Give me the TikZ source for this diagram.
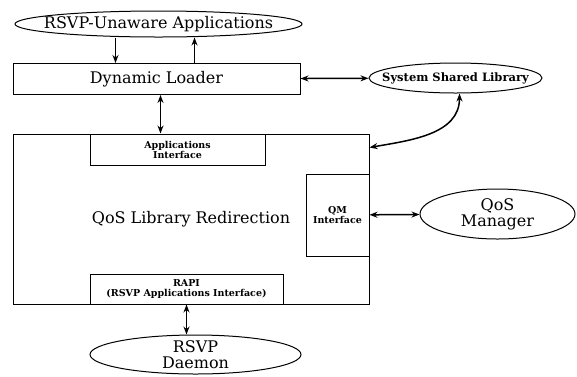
\documentclass[tikz,border=0pt]{standalone}
\usepackage{fontspec}
\setmainfont{DejaVu Serif}
\usetikzlibrary{shapes.geometric,arrows.meta,positioning}

\begin{document}
\begin{tikzpicture}[x=1pt,y=-1pt,
	box/.style={draw,line width=1pt,rectangle,inner sep=0pt},
	oval/.style={draw,line width=1pt,ellipse,inner sep=0pt},
	big/.style={font=\fontsize{16}{16}\selectfont,align=center},
	small/.style={font=\bfseries\fontsize{9.5}{10}\selectfont,align=center},
	arr/.style={line width=1.5pt,-{Stealth[length=8pt,width=6pt]}},
	link/.style={line width=1.5pt,{Stealth[length=8pt,width=6pt]}-{Stealth[length=8pt,width=6pt]}}]
				\useasboundingbox (0,0) rectangle (577,376);
				\node (apps) [oval,minimum width=287pt,minimum height=26pt,label={[big]center:RSVP-Unaware Applications}] at (158.5,24) {};
				\node (loader) [box,minimum width=287pt,minimum height=31pt,big] at (156.5,79) {Dynamic Loader};
				\node (ssl) [oval,minimum width=173pt,minimum height=30pt,label={[font=\bfseries\fontsize{11.5}{12}\selectfont]center:System Shared Library}] at (455.5,78) {};
				\node (qlr) [box,minimum width=356pt,minimum height=170pt,big] at (191,219) {QoS Library Redirection};
				\node (api) [box,minimum width=175pt,minimum height=31pt,small] at (177.5,149.5) {Applications\\Interface};
				\node (qm) [box,minimum width=63pt,minimum height=82pt,small] at (337.5,215) {QM\\Interface};
				\node (rapi) [box,minimum width=193pt,minimum height=30pt,small] at (186.5,289) {RAPI\\(RSVP Applications Interface)};
				\node (qosm) [oval,minimum width=155pt,minimum height=50pt,label={[big]center:QoS\\Manager}] at (497.5,214) {};
				\node (daemon) [oval,minimum width=211pt,minimum height=39pt,label={[big]center:RSVP\\Daemon}] at (195.5,354.5) {};
				\draw [arr] ([xshift=-43pt]apps.south) -- ([xshift=-43pt]apps.south |- loader.north); \draw [arr] ([xshift=36pt]apps.south |- loader.north) -- ([xshift=36pt]apps.south);
				\draw [link] (loader) -- (ssl); \draw [link] ([xshift=4pt]loader.south) -- ([xshift=4pt]loader.south |- qlr.north);
				\draw [link] ([yshift=-14pt]qlr.north east) to[out=10,in=-90] ([xshift=4pt]ssl.south);
				\draw [link] (qm) -- (qosm); \draw [link] (rapi.south) -- (rapi.south |- daemon.north);
			\end{tikzpicture}
\end{document}
